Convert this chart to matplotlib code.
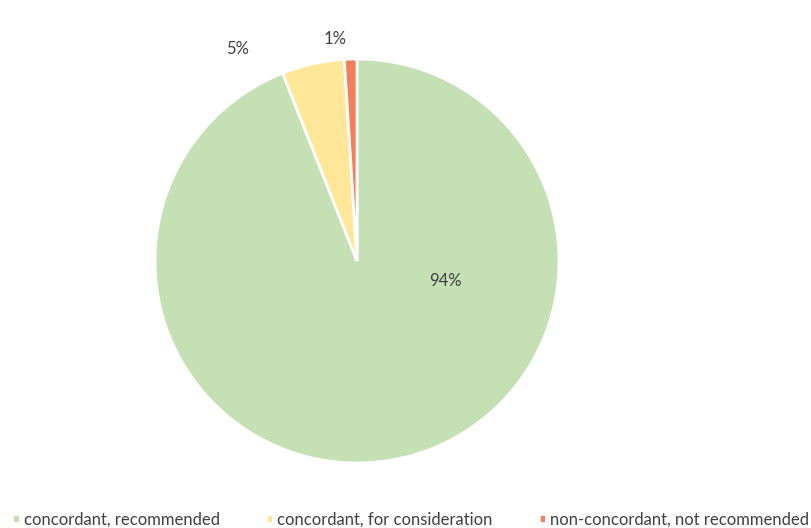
import matplotlib.pyplot as plt

categories = ["concordant, recommended", "concordant, for consideration",
              "non-concordant, not recommended"]
shares = [94, 5, 1]
colors = ["#C5E0B4", "#FFE699", "#F47F5A"]

# label spots in axes data units (radius = 1)
label_pos = [(0.44, -0.10), (-0.59, 1.05), (-0.11, 1.10)]

plt.rcParams['font.family'] = ['Lato', 'DejaVu Sans']

fig = plt.figure(figsize=(8.11, 5.28), dpi=100)
cx, cy, r = 357, 261, 202
ax = fig.add_axes([(cx - r) / 811, (528 - cy - r) / 528, 2 * r / 811, 2 * r / 528])

wedges, texts = ax.pie(shares, colors=colors, startangle=90, counterclock=False,
                       radius=1, wedgeprops=dict(edgecolor="white", linewidth=2))
ax.set_xlim(-1, 1)
ax.set_ylim(-1, 1)
ax.set_aspect("equal")
ax.axis("off")

for v, (x, y) in zip(shares, label_pos):
    ax.text(x, y, f"{v}%", ha="center", va="center", fontsize=12, color="#404040")

fig.legend(wedges, categories, loc="lower left", bbox_to_anchor=(0.011, -0.005),
           ncol=3, frameon=False, fontsize=12, handlelength=0.45, handleheight=0.45,
           handletextpad=0.25, columnspacing=2.75, borderaxespad=0.0, borderpad=0.2,
           labelcolor="#404040")

fig.savefig("out.png", dpi=100)
